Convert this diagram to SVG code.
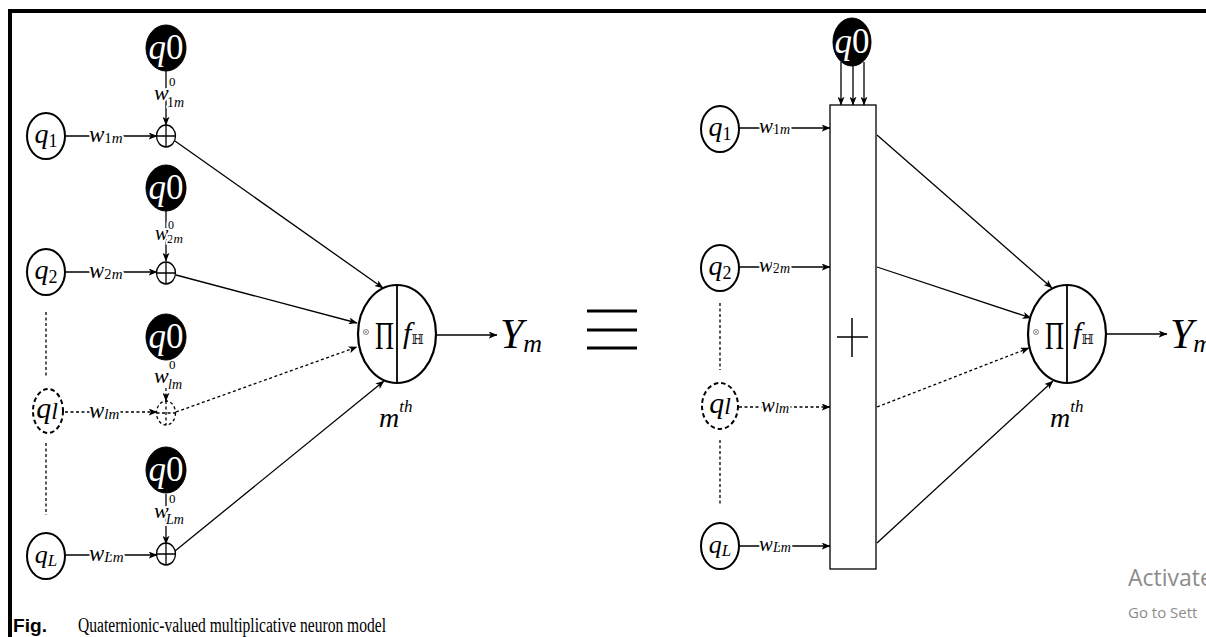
<svg xmlns="http://www.w3.org/2000/svg" width="1206" height="637" viewBox="0 0 1206 637">
<defs>
<style>
.ln{stroke:#000;stroke-width:1.3;fill:none}
.dot{stroke-dasharray:3 2.5}
.node{fill:#fff;stroke:#000;stroke-width:2}
.dash{stroke-dasharray:4.5 3}
.blk{fill:#000;stroke:#000;stroke-width:1}
.m{font-family:"Liberation Serif","DejaVu Serif",serif;fill:#000}
.it{font-style:italic}
.halo{paint-order:stroke;stroke:#fff;stroke-width:4px;stroke-linejoin:round}
.wt{fill:#fff}
.frame{fill:#000}
.wm{font-family:"Open Sans","Noto Sans",sans-serif;fill:#8c8c8c}
</style>
<marker id="ah" viewBox="0 0 10 8" refX="9.5" refY="4" markerWidth="9" markerHeight="7" markerUnits="userSpaceOnUse" orient="auto">
<path d="M0,0 L10,4 L0,8 L2.5,4 Z" fill="#000"/>
</marker>
</defs>
<rect width="1206" height="637" fill="#fff"/>
<rect class="frame" x="8" y="9" width="1198" height="4"/>
<rect class="frame" x="8" y="9" width="4" height="628"/>

<g id="connectors">
<line class="ln" x1="65" y1="136" x2="157" y2="136" marker-end="url(#ah)"/>
<line class="ln" x1="65" y1="272" x2="157" y2="272" marker-end="url(#ah)"/>
<line class="ln dot" x1="65" y1="412" x2="157" y2="412" marker-end="url(#ah)"/>
<line class="ln" x1="65" y1="555" x2="157" y2="555" marker-end="url(#ah)"/>
<line class="ln" x1="166" y1="71" x2="166" y2="125" marker-end="url(#ah)"/>
<line class="ln" x1="166" y1="211" x2="166" y2="261" marker-end="url(#ah)"/>
<line class="ln dot" x1="166" y1="388" x2="166" y2="401" marker-end="url(#ah)"/>
<line class="ln" x1="166" y1="494" x2="166" y2="544" marker-end="url(#ah)"/>
<line class="ln dot" x1="46" y1="312" x2="46" y2="378"/>
<line class="ln dot" x1="46" y1="443" x2="46" y2="515"/>
<line class="ln" x1="175" y1="141" x2="383" y2="288" marker-end="url(#ah)"/>
<line class="ln" x1="176" y1="275" x2="357" y2="323" marker-end="url(#ah)"/>
<line class="ln dot" x1="176" y1="412" x2="357" y2="347" marker-end="url(#ah)"/>
<line class="ln" x1="175" y1="551" x2="384" y2="381" marker-end="url(#ah)"/>
<line class="ln" x1="437" y1="335" x2="497" y2="335" marker-end="url(#ah)"/>

<line class="ln" x1="739" y1="128" x2="830" y2="128" marker-end="url(#ah)"/>
<line class="ln" x1="739" y1="267" x2="830" y2="267" marker-end="url(#ah)"/>
<line class="ln dot" x1="739" y1="407" x2="830" y2="407" marker-end="url(#ah)"/>
<line class="ln" x1="739" y1="546" x2="830" y2="546" marker-end="url(#ah)"/>
<line class="ln" x1="841" y1="62" x2="841" y2="105" marker-end="url(#ah)"/>
<line class="ln" x1="853" y1="64" x2="853" y2="105" marker-end="url(#ah)"/>
<line class="ln" x1="864" y1="62" x2="864" y2="105" marker-end="url(#ah)"/>
<line class="ln dot" x1="720" y1="303" x2="720" y2="370"/>
<line class="ln dot" x1="720" y1="440" x2="720" y2="505"/>
<line class="ln" x1="877" y1="135" x2="1052" y2="288" marker-end="url(#ah)"/>
<line class="ln" x1="877" y1="267" x2="1031" y2="318" marker-end="url(#ah)"/>
<line class="ln dot" x1="877" y1="407" x2="1029" y2="348" marker-end="url(#ah)"/>
<line class="ln" x1="877" y1="543" x2="1053" y2="381" marker-end="url(#ah)"/>
<line class="ln" x1="1107" y1="334" x2="1167" y2="334" marker-end="url(#ah)"/>
</g>

<g id="edge-labels" class="m">
<text class="halo" x="89" y="142" font-size="23"><tspan class="it">w</tspan><tspan font-size="15" dy="1">1<tspan class="it">m</tspan></tspan></text>
<text class="halo" x="89" y="278" font-size="23"><tspan class="it">w</tspan><tspan font-size="15" dy="1">2<tspan class="it">m</tspan></tspan></text>
<text class="halo" x="89" y="418" font-size="23"><tspan class="it">w</tspan><tspan class="it" font-size="15" dy="1">lm</tspan></text>
<text class="halo" x="89" y="561" font-size="23"><tspan class="it">w</tspan><tspan class="it" font-size="15" dy="1">Lm</tspan></text>

<text class="halo" x="154" y="100" font-size="22"><tspan class="it">w</tspan></text>
<text class="halo" x="169" y="86" font-size="13">0</text>
<text class="halo" x="167" y="107" font-size="14">1<tspan class="it">m</tspan></text>

<text class="halo" x="155" y="240" font-size="20"><tspan class="it">w</tspan></text>
<text class="halo" x="168" y="229" font-size="12">0</text>
<text class="halo" x="167" y="243" font-size="13">2<tspan class="it">m</tspan></text>

<text class="halo" x="154" y="383" font-size="22"><tspan class="it">w</tspan></text>
<text class="halo" x="169" y="369" font-size="13">0</text>
<text class="halo" x="168" y="389" font-size="14" font-style="italic">lm</text>

<text class="halo" x="154" y="518" font-size="22"><tspan class="it">w</tspan></text>
<text class="halo" x="169" y="503" font-size="13">0</text>
<text class="halo" x="166" y="524" font-size="14" font-style="italic">Lm</text>

<text class="halo" x="759" y="133" font-size="21"><tspan class="it">w</tspan><tspan font-size="14" dy="1">1<tspan class="it">m</tspan></tspan></text>
<text class="halo" x="759" y="272" font-size="21"><tspan class="it">w</tspan><tspan font-size="14" dy="1">2<tspan class="it">m</tspan></tspan></text>
<text class="halo" x="761" y="412" font-size="21"><tspan class="it">w</tspan><tspan class="it" font-size="14" dy="1">lm</tspan></text>
<text class="halo" x="759" y="551" font-size="21"><tspan class="it">w</tspan><tspan class="it" font-size="14" dy="1">Lm</tspan></text>
</g>

<g id="q1-left"><ellipse class="node" cx="46" cy="136" rx="19" ry="23"/><text class="m" x="46" y="143" text-anchor="middle" font-size="28"><tspan class="it">q</tspan><tspan font-size="18" dy="4">1</tspan></text></g>
<g id="q2-left"><ellipse class="node" cx="46" cy="272" rx="19" ry="23"/><text class="m" x="46" y="279" text-anchor="middle" font-size="28"><tspan class="it">q</tspan><tspan font-size="18" dy="4">2</tspan></text></g>
<g id="ql-left"><ellipse class="node dash" cx="48" cy="411" rx="15" ry="22"/><text class="m" x="47" y="418" text-anchor="middle" font-size="30"><tspan class="it">q</tspan><tspan class="it" font-size="24" dy="1">l</tspan></text></g>
<g id="qL-left"><ellipse class="node" cx="46" cy="556" rx="19" ry="23"/><text class="m" x="46" y="563" text-anchor="middle" font-size="26"><tspan class="it">q</tspan><tspan class="it" font-size="17" dy="3">L</tspan></text></g>

<g id="q0-left-1"><ellipse class="blk" cx="166" cy="48" rx="20" ry="23"/><text class="m wt" x="166" y="59" text-anchor="middle" font-size="35"><tspan class="it">q</tspan>0</text></g>
<g id="q0-left-2"><ellipse class="blk" cx="166" cy="188" rx="20" ry="23"/><text class="m wt" x="166" y="199" text-anchor="middle" font-size="35"><tspan class="it">q</tspan>0</text></g>
<g id="q0-left-l"><ellipse class="blk" cx="166" cy="337" rx="20" ry="23"/><text class="m wt" x="166" y="348" text-anchor="middle" font-size="35"><tspan class="it">q</tspan>0</text></g>
<g id="q0-left-L"><ellipse class="blk" cx="166" cy="470" rx="20" ry="23"/><text class="m wt" x="166" y="481" text-anchor="middle" font-size="35"><tspan class="it">q</tspan>0</text></g>

<g id="add-1"><ellipse class="node" style="stroke-width:1.3" cx="166" cy="136" rx="9.5" ry="11"/><path class="ln" d="M156.5,136 H175.5 M166,125 V147"/></g>
<g id="add-2"><ellipse class="node" style="stroke-width:1.3" cx="166" cy="273" rx="9.5" ry="11"/><path class="ln" d="M156.5,273 H175.5 M166,262 V284"/></g>
<g id="add-l"><ellipse class="node dot" style="stroke-width:1.3" cx="166" cy="413" rx="9.5" ry="12"/><path class="ln dot" d="M156.5,413 H175.5 M166,401 V425"/></g>
<g id="add-L"><ellipse class="node" style="stroke-width:1.3" cx="166" cy="554" rx="9.5" ry="11"/><path class="ln" d="M156.5,554 H175.5 M166,543 V565"/></g>

<g id="neuron-left">
<ellipse class="node" style="stroke-width:2.2" cx="397" cy="334" rx="39" ry="49"/>
<line class="ln" style="stroke-width:1.8" x1="397" y1="285" x2="397" y2="383"/>
<circle cx="366" cy="332" r="2.6" fill="none" stroke="#777" stroke-width="0.8"/>
<path d="M364.2,330.2 L367.8,333.8 M367.8,330.2 L364.2,333.8" stroke="#777" stroke-width="0.7"/>
<text class="m" x="375" y="349" font-size="40" textLength="19" lengthAdjust="spacingAndGlyphs">Π</text>
<text class="m" x="403" y="343" font-size="30"><tspan class="it">f</tspan><tspan font-family="DejaVu Serif,DejaVu Sans,serif" font-size="13" dy="1">ℍ</tspan></text>
<text class="m" x="379" y="427" font-size="28"><tspan class="it">m</tspan><tspan class="it" font-size="17" dy="-15">th</tspan></text>
</g>
<g id="Ym-left"><text class="m" x="500" y="348" font-size="42"><tspan class="it">Y</tspan><tspan class="it" font-size="26" dy="4">m</tspan></text></g>

<g id="equiv"><path d="M587,311 H637 M587,330 H637 M587,348 H637" stroke="#000" stroke-width="3.2"/></g>

<g id="q1-right"><ellipse class="node" cx="720" cy="129" rx="19" ry="23"/><text class="m" x="720" y="136" text-anchor="middle" font-size="28"><tspan class="it">q</tspan><tspan font-size="18" dy="4">1</tspan></text></g>
<g id="q2-right"><ellipse class="node" cx="720" cy="268" rx="19" ry="23"/><text class="m" x="720" y="275" text-anchor="middle" font-size="28"><tspan class="it">q</tspan><tspan font-size="18" dy="4">2</tspan></text></g>
<g id="ql-right"><ellipse class="node dash" cx="720" cy="406" rx="18" ry="23"/><text class="m" x="720" y="413" text-anchor="middle" font-size="30"><tspan class="it">q</tspan><tspan class="it" font-size="24" dy="1">l</tspan></text></g>
<g id="qL-right"><ellipse class="node" cx="720" cy="546" rx="19" ry="23"/><text class="m" x="720" y="553" text-anchor="middle" font-size="26"><tspan class="it">q</tspan><tspan class="it" font-size="17" dy="3">L</tspan></text></g>

<g id="q0-right"><ellipse class="blk" cx="852" cy="42" rx="19" ry="24"/><text class="m wt" x="852" y="53" text-anchor="middle" font-size="35"><tspan class="it">q</tspan>0</text></g>

<g id="sum-box">
<rect x="830" y="105" width="46" height="464" fill="#fff" stroke="#000" stroke-width="1.3"/>
<path d="M837,337 H868 M852,318 V357" stroke="#000" stroke-width="1.5"/>
</g>

<g id="neuron-right">
<ellipse class="node" style="stroke-width:2.2" cx="1067" cy="334" rx="39" ry="49"/>
<line class="ln" style="stroke-width:1.8" x1="1067" y1="285" x2="1067" y2="383"/>
<circle cx="1036" cy="332" r="2.6" fill="none" stroke="#777" stroke-width="0.8"/>
<path d="M1034.2,330.2 L1037.8,333.8 M1037.8,330.2 L1034.2,333.8" stroke="#777" stroke-width="0.7"/>
<text class="m" x="1045" y="349" font-size="40" textLength="19" lengthAdjust="spacingAndGlyphs">Π</text>
<text class="m" x="1073" y="343" font-size="30"><tspan class="it">f</tspan><tspan font-family="DejaVu Serif,DejaVu Sans,serif" font-size="13" dy="1">ℍ</tspan></text>
<text class="m" x="1050" y="427" font-size="28"><tspan class="it">m</tspan><tspan class="it" font-size="17" dy="-15">th</tspan></text>
</g>
<g id="Ym-right"><text class="m" x="1170" y="348" font-size="42"><tspan class="it">Y</tspan><tspan class="it" font-size="26" dy="4">m</tspan></text></g>

<g id="caption">
<text x="13" y="632" font-family="Liberation Sans,Arial,sans-serif" font-weight="bold" font-size="19" textLength="34" lengthAdjust="spacingAndGlyphs">Fig.</text>
<text class="m" x="78" y="632" font-size="20" textLength="308" lengthAdjust="spacingAndGlyphs">Quaternionic-valued multiplicative neuron model</text>
</g>

<g id="watermark">
<text class="wm" x="1128" y="586" font-size="23">Activate</text>
<text class="wm" x="1128" y="618" font-size="15">Go to Sett</text>
</g>
</svg>
